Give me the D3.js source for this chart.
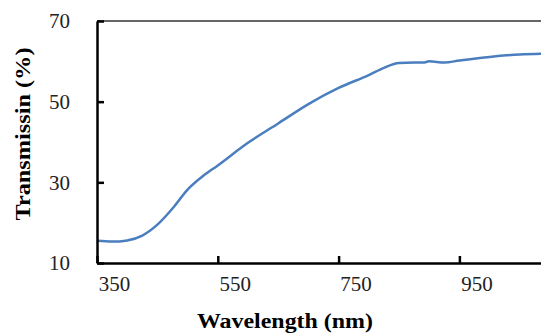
<!DOCTYPE html>
<html>
<head>
<meta charset="utf-8">
<script src="https://cdn.jsdelivr.net/npm/d3@7"></script>
<style>
  body { margin: 0; background: #fff; }
  text { font-family: "Liberation Serif", "Times New Roman", serif; }
</style>
</head>
<body>
<div id="chart"></div>
<script>
var wavelength = [350, 375, 400, 425, 450, 475, 500, 525, 550, 600, 650, 700, 750, 800, 825, 850, 875, 890, 900, 925, 950, 1000, 1050, 1100];
var transmission = [15.5, 15.3, 15.6, 16.8, 19.5, 23.5, 28.2, 31.5, 34.2, 39.8, 44.6, 49.4, 53.4, 56.6, 58.4, 59.6, 59.7, 59.7, 60.0, 59.7, 60.2, 61.1, 61.7, 61.9];
var xTicks = [350, 550, 750, 950];
var yTicks = [10, 30, 50, 70];

var width = 541, height = 334;
var marginLeft = 97, plotTop = 21, plotBottom = 263;

var svg = d3.select("#chart").append("svg")
  .attr("width", width).attr("height", height);

var x = d3.scaleLinear().domain([350, 1100]).range([marginLeft, marginLeft + 750 * 0.604]);
var y = d3.scaleLinear().domain([10, 70]).range([plotBottom, plotTop]);

// top frame line
svg.append("line")
  .attr("x1", marginLeft).attr("x2", width + 10)
  .attr("y1", y(70)).attr("y2", y(70))
  .attr("stroke", "#333").attr("stroke-width", 1.5);

// curve
var line = d3.line()
  .x(function (d, i) { return x(wavelength[i]); })
  .y(function (d) { return y(d); })
  .curve(d3.curveMonotoneX);

svg.append("path")
  .datum(transmission)
  .attr("fill", "none")
  .attr("stroke", "#4a7ebf")
  .attr("stroke-width", 2.5)
  .attr("d", line);

// x axis
var xAxis = svg.append("g")
  .attr("transform", "translate(0," + plotBottom + ")")
  .call(d3.axisBottom(x).tickValues(xTicks).tickSize(-7).tickSizeOuter(0).tickPadding(12));
xAxis.select(".domain").attr("stroke", "#000").attr("stroke-width", 2.5);
xAxis.selectAll(".tick line").attr("stroke", "#000").attr("stroke-width", 2.5);
xAxis.selectAll(".tick text")
  .attr("font-size", 21).attr("fill", "#222")
  .attr("dx", 17).attr("dy", "0.75em")
  .attr("font-family", "Liberation Serif");

// y axis
var yAxis = svg.append("g")
  .attr("transform", "translate(" + marginLeft + ",0)")
  .call(d3.axisLeft(y).tickValues(yTicks).tickSize(-7).tickSizeOuter(0).tickPadding(27));
yAxis.select(".domain").attr("stroke", "#000").attr("stroke-width", 2.5);
yAxis.selectAll(".tick line").attr("stroke", "#000").attr("stroke-width", 2.5);
yAxis.selectAll(".tick text")
  .attr("font-size", 21).attr("fill", "#222")
  .attr("font-family", "Liberation Serif");

// axis titles
svg.append("text")
  .attr("x", 285).attr("y", 328)
  .attr("text-anchor", "middle")
  .attr("font-size", 20).attr("font-weight", "bold")
  .attr("textLength", 176).attr("lengthAdjust", "spacingAndGlyphs")
  .text("Wavelength (nm)");

svg.append("text")
  .attr("transform", "translate(30,134) rotate(-90)")
  .attr("text-anchor", "middle")
  .attr("font-size", 20).attr("font-weight", "bold")
  .attr("textLength", 173).attr("lengthAdjust", "spacingAndGlyphs")
  .text("Transmissin (%)");
</script>
</body>
</html>
